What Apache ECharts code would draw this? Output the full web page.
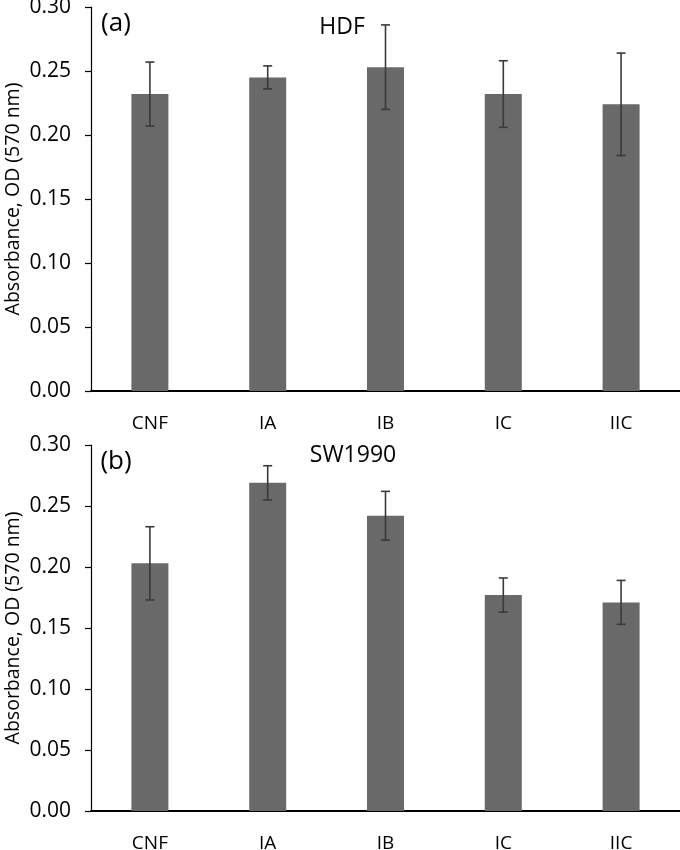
<!DOCTYPE html>
<html>
<head>
<meta charset="utf-8">
<script src="https://cdn.jsdelivr.net/npm/echarts@6/dist/echarts.min.js"></script>
<style>html,body{margin:0;padding:0;background:#fff}#c{width:680px;height:850px}</style>
</head>
<body>
<div id="c"></div>
<script>
const categories = ['CNF', 'IA', 'IB', 'IC', 'IIC'];
const hdfValues = [0.232, 0.245, 0.253, 0.232, 0.224];
const hdfErrors = [0.025, 0.009, 0.033, 0.026, 0.040];
const swValues = [0.203, 0.269, 0.242, 0.177, 0.171];
const swErrors = [0.030, 0.014, 0.020, 0.014, 0.018];
const yTicks = [0, 0.05, 0.10, 0.15, 0.20, 0.25, 0.30];
const panelTitles = ['HDF', 'SW1990'];
const panelTags = ['(a)', '(b)'];
const yName = 'Absorbance, OD (570 nm)';

const FONT = 'Open Sans';
const chart = echarts.init(document.getElementById('c'), null, {renderer: 'canvas'});

function errData(vals, errs) {
  return vals.map((v, i) => [i, v - errs[i], v + errs[i]]);
}
function errRender(params, api) {
  const x = api.value(0);
  const lo = api.coord([x, api.value(1)]);
  const hi = api.coord([x, api.value(2)]);
  const cw = 4.5;
  const st = {stroke: '#3a3a3a', lineWidth: 1.6};
  return {
    type: 'group',
    children: [
      {type: 'line', shape: {x1: hi[0], y1: hi[1], x2: lo[0], y2: lo[1]}, style: st},
      {type: 'line', shape: {x1: hi[0] - cw, y1: hi[1], x2: hi[0] + cw, y2: hi[1]}, style: st},
      {type: 'line', shape: {x1: lo[0] - cw, y1: lo[1], x2: lo[0] + cw, y2: lo[1]}, style: st}
    ]
  };
}

const grids = [
  {left: 91, right: 0, top: 7, height: 384, containLabel: false, outerBoundsMode: 'none'},
  {left: 91, right: 0, top: 445, height: 366, containLabel: false, outerBoundsMode: 'none'}
];

function xAxis(gi) {
  return {
    type: 'category', gridIndex: gi, data: categories,
    axisLine: {lineStyle: {color: '#000', width: 2}},
    axisTick: {show: false},
    axisLabel: {color: '#000', fontFamily: FONT, fontSize: 19, margin: 23}
  };
}
function yAxis(gi) {
  return {
    type: 'value', gridIndex: gi, min: 0, max: 0.30, interval: 0.05,
    name: yName, nameLocation: 'middle', nameGap: 68, nameMoveOverlap: false,
    nameTextStyle: {color: '#000', fontFamily: FONT, fontSize: 19.5},
    axisLine: {show: true, lineStyle: {color: '#000', width: 1.2}},
    axisTick: {show: true, inside: false, length: 6, lineStyle: {color: '#000', width: 1.2}},
    splitLine: {show: false},
    axisLabel: {color: '#000', fontFamily: FONT, fontSize: 21, margin: 20,
      formatter: v => v.toFixed(2)}
  };
}

function label(text, x, y, size) {
  return {type: 'text', x: x, y: y,
    style: {text: text, fontFamily: FONT, fontSize: size, fill: '#000', align: 'center', verticalAlign: 'middle'}};
}

const option = {
  animation: false,
  backgroundColor: '#fff',
  grid: grids,
  xAxis: [xAxis(0), xAxis(1)],
  yAxis: [yAxis(0), yAxis(1)],
  series: [
    {type: 'bar', xAxisIndex: 0, yAxisIndex: 0, data: hdfValues, barWidth: 37,
      itemStyle: {color: '#696969'}},
    {type: 'custom', xAxisIndex: 0, yAxisIndex: 0, data: errData(hdfValues, hdfErrors),
      renderItem: errRender, z: 5},
    {type: 'bar', xAxisIndex: 1, yAxisIndex: 1, data: swValues, barWidth: 37,
      itemStyle: {color: '#696969'}},
    {type: 'custom', xAxisIndex: 1, yAxisIndex: 1, data: errData(swValues, swErrors),
      renderItem: errRender, z: 5}
  ],
  graphic: [
    label(panelTitles[0], 342, 27, 23),
    label(panelTitles[1], 353, 455, 23),
    label(panelTags[0], 116, 24, 26),
    label(panelTags[1], 116, 462, 26)
  ]
};
chart.setOption(option);
</script>
</body>
</html>
